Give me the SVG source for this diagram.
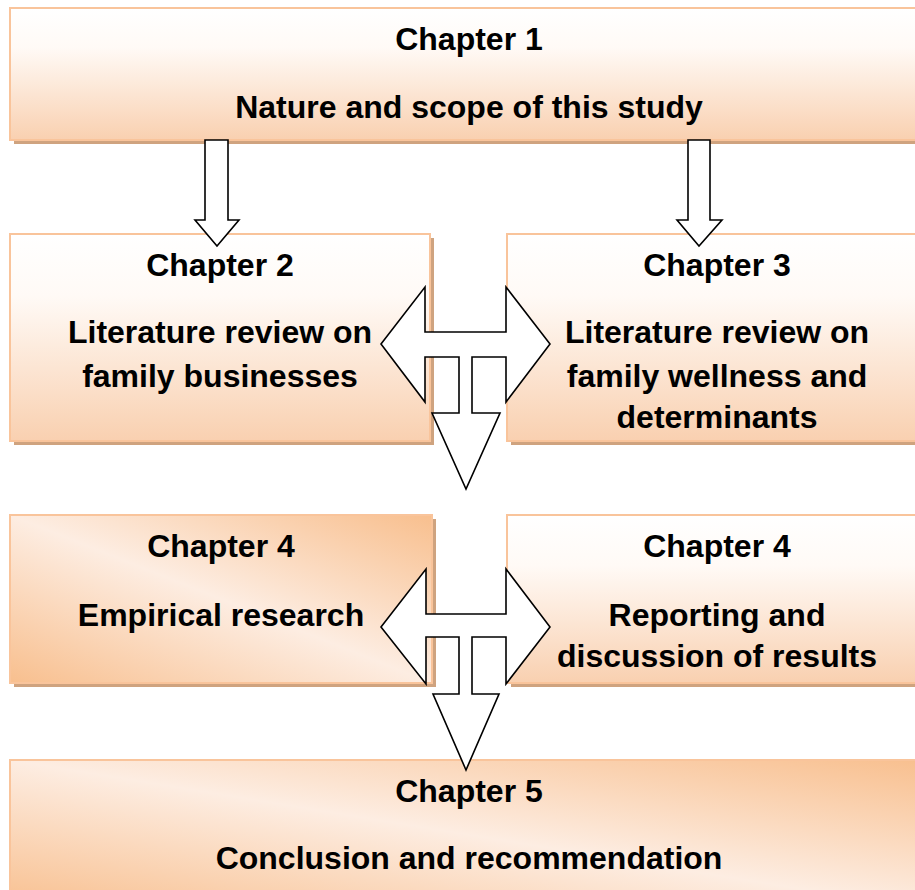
<svg xmlns="http://www.w3.org/2000/svg" width="915" height="890" viewBox="0 0 915 890">
  <style>
    .box { stroke: #f9c49b; stroke-width: 2; }
    .shadow { fill: #cfa37f; }
    .lbl { font-family: "Liberation Sans", Arial, sans-serif; font-weight: bold; font-size: 32px; fill: #000; text-anchor: middle; }
    .arrow { fill: #ffffff; stroke: #000000; stroke-width: 1.6; stroke-linejoin: miter; }
  </style>
  <defs>
    <linearGradient id="gv" x1="0" y1="0" x2="0" y2="1">
      <stop offset="0" stop-color="#ffffff"/>
      <stop offset="0.3" stop-color="#fffaf6"/>
      <stop offset="1" stop-color="#f9d0b0"/>
    </linearGradient>
    <linearGradient id="gd" x1="0" y1="1" x2="1" y2="0">
      <stop offset="0" stop-color="#f8bf8e"/>
      <stop offset="0.5" stop-color="#fdede2"/>
      <stop offset="1" stop-color="#f8bf8e"/>
    </linearGradient>
  </defs>
  <rect width="915" height="890" fill="#ffffff"/>

  <g id="node-ch1">
    <rect class="shadow" x="14" y="12" width="920" height="132"/>
    <rect class="box" x="10" y="8" width="920" height="132" fill="url(#gv)"/>
    <text class="lbl" x="469" y="50">Chapter 1</text>
    <text class="lbl" x="469" y="118">Nature and scope of this study</text>
  </g>

  <g id="node-ch2">
    <rect class="shadow" x="14" y="238" width="420" height="207"/>
    <rect class="box" x="10" y="234" width="420" height="207" fill="url(#gv)"/>
    <text class="lbl" x="220" y="276">Chapter 2</text>
    <text class="lbl" x="220" y="343">Literature review on</text>
    <text class="lbl" x="220" y="387">family businesses</text>
  </g>

  <g id="node-ch3">
    <rect class="shadow" x="511" y="238" width="420" height="207"/>
    <rect class="box" x="507" y="234" width="420" height="207" fill="url(#gv)"/>
    <text class="lbl" x="717" y="276">Chapter 3</text>
    <text class="lbl" x="717" y="343">Literature review on</text>
    <text class="lbl" x="717" y="387">family wellness and</text>
    <text class="lbl" x="717" y="428">determinants</text>
  </g>

  <g id="node-ch4a">
    <rect class="shadow" x="14" y="519" width="422" height="168"/>
    <rect class="box" x="10" y="515" width="422" height="168" fill="url(#gd)"/>
    <text class="lbl" x="221" y="557">Chapter 4</text>
    <text class="lbl" x="221" y="626">Empirical research</text>
  </g>

  <g id="node-ch4b">
    <rect class="shadow" x="511" y="519" width="420" height="168"/>
    <rect class="box" x="507" y="515" width="420" height="168" fill="url(#gv)"/>
    <text class="lbl" x="717" y="557">Chapter 4</text>
    <text class="lbl" x="717" y="626">Reporting and</text>
    <text class="lbl" x="717" y="667">discussion of results</text>
  </g>

  <g id="node-ch5">
    <rect class="shadow" x="14" y="764" width="920" height="150"/>
    <rect class="box" x="10" y="760" width="920" height="150" fill="url(#gd)"/>
    <text class="lbl" x="469" y="802">Chapter 5</text>
    <text class="lbl" x="469" y="869">Conclusion and recommendation</text>
  </g>

  <g id="connectors">
    <polygon class="arrow" points="205,140 228,140 228,220 239,220 217,246 195,220 205,220"/>
    <polygon class="arrow" points="688,140 710,140 710,220 722,220 699,246 677,220 688,220"/>
    <polygon class="arrow" points="381,344 425,287 425,332 506,332 506,287 550,344 506,402 506,357 472,357 472,413 500,413 466,489 432,413 459,413 459,357 425,357 425,402"/>
    <polygon class="arrow" points="381,627 426,569 426,614 506,614 506,569 550,627 506,684 506,637 472,637 472,694 499,694 466,770 433,694 459,694 459,637 426,637 426,684"/>
  </g>
</svg>
